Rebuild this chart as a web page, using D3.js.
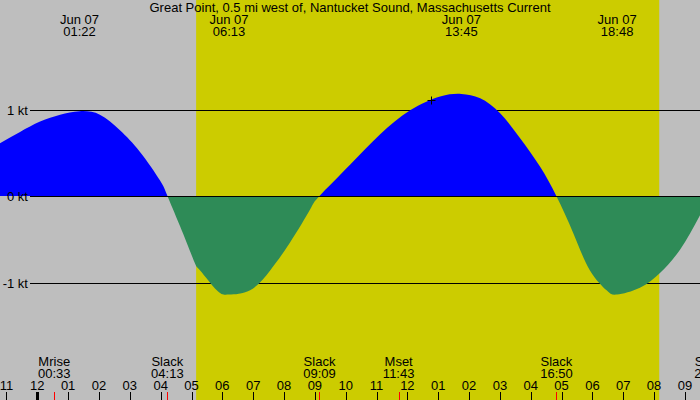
<!DOCTYPE html>
<html>
<head>
<meta charset="utf-8">
<script src="https://cdn.jsdelivr.net/npm/d3@7"></script>
<style>
  body { margin: 0; background: #bebebe; }
  svg { display: block; }
  text { font-family: "Liberation Sans", Arial, sans-serif; font-size: 13px; fill: #000; }
</style>
</head>
<body>
<div id="chart"></div>
<script>
// Current speed (hours after midnight Jun 07, knots)
const hours = [-1.21, -0.56, 0.09, 0.74, 1.37, 2.03, 2.68, 3.33, 3.98, 4.22, 4.63, 5.09, 5.28, 5.82, 6.22,
    6.90, 7.55, 8.19, 8.84, 9.15, 10.14, 11.11, 12.09, 13.06, 13.75, 14.36, 15.00, 15.65, 16.30, 16.83,
    17.38, 17.92, 18.46, 18.80, 19.54, 20.19, 20.84, 21.49];
const knots = [0.61, 0.74, 0.86, 0.94, 0.98, 0.94, 0.76, 0.51, 0.18, 0, -0.35, -0.76, -0.86, -1.09, -1.14,
    -1.09, -0.86, -0.54, -0.16, 0, 0.36, 0.71, 0.99, 1.15, 1.18, 1.13, 0.96, 0.67, 0.34, 0,
    -0.43, -0.86, -1.09, -1.14, -1.06, -0.89, -0.62, -0.22];

const title = "Great Point, 0.5 mi west of, Nantucket Sound, Massachusetts Current";

// max / min current times shown on top
const peakDates = ["Jun 07", "Jun 07", "Jun 07", "Jun 07"];
const peakTimes = ["01:22", "06:13", "13:45", "18:48"];

// events along the bottom
const eventNames = ["Mrise", "Slack", "Slack", "Mset", "Slack", "Slack"];
const eventTimes = ["00:33", "04:13", "09:09", "11:43", "16:50", "21:50"];

const sunrise = "05:09";
const sunset = "20:10";

const levels = [1, 0, -1];
const levelLabels = ["1 kt", "0 kt", "-1 kt"];

const hourTicks = d3.range(-1, 22);  // 23:00 prev day .. 21:00
const markTime = 12.77, markValue = 1.11;

const width = 700, height = 400;

function toHours(s) {
    const p = s.split(":");
    return +p[0] + (+p[1]) / 60;
}

const x = d3.scaleLinear().domain([0, 20]).range([37.3, 654.1]);
const y = d3.scaleLinear().domain([1, -1]).range([109.5, 282.5]);

const svg = d3.select("#chart").append("svg")
    .attr("width", width)
    .attr("height", height);

svg.append("rect").attr("width", width).attr("height", height).attr("fill", "#bebebe");

// daylight
svg.append("rect")
    .attr("x", x(toHours(sunrise)))
    .attr("y", 0)
    .attr("width", x(toHours(sunset)) - x(toHours(sunrise)))
    .attr("height", height)
    .attr("fill", "#cccc00");

// level lines
svg.selectAll(".level").data(levels).enter()
    .append("line")
    .attr("x1", 30).attr("x2", width)
    .attr("y1", d => Math.round(y(d)) + 0.5)
    .attr("y2", d => Math.round(y(d)) + 0.5)
    .attr("stroke", "#000")
    .attr("stroke-width", 1);

// current curve, flood blue above zero, ebb green below
const pts = hours.map((h, i) => [h, knots[i]]);
const area = d3.area()
    .x(d => x(d[0]))
    .y0(y(0))
    .y1(d => y(d[1]))
    .curve(d3.curveNatural);

const defs = svg.append("defs");
defs.append("clipPath").attr("id", "above")
    .append("rect").attr("x", 0).attr("y", 0).attr("width", width).attr("height", y(0));
defs.append("clipPath").attr("id", "below")
    .append("rect").attr("x", 0).attr("y", y(0)).attr("width", width).attr("height", height - y(0));

svg.append("path").datum(pts)
    .attr("d", area)
    .attr("fill", "#0000ff")
    .attr("clip-path", "url(#above)");

svg.append("path").datum(pts)
    .attr("d", area)
    .attr("fill", "#2e8b57")
    .attr("clip-path", "url(#below)");

// zero line on top
svg.append("line")
    .attr("x1", 30).attr("x2", width)
    .attr("y1", Math.round(y(0)) + 0.5).attr("y2", Math.round(y(0)) + 0.5)
    .attr("stroke", "#000");

svg.selectAll(".levelLabel").data(levels).enter()
    .append("text")
    .attr("x", 28)
    .attr("y", d => Math.round(y(d)) + 5)
    .attr("text-anchor", "end")
    .text((d, i) => levelLabels[i]);

// "now" mark
const mx = Math.round(x(markTime)) + 0.5, my = Math.round(y(markValue)) + 0.5;
svg.append("path")
    .attr("d", `M${mx - 4},${my}H${mx + 4}M${mx},${my - 4}V${my + 4}`)
    .attr("stroke", "#000")
    .attr("fill", "none");

// title
svg.append("text")
    .attr("x", width / 2)
    .attr("y", 12)
    .attr("text-anchor", "middle")
    .text(title);

// peaks on top
const peaks = svg.selectAll(".peak").data(peakTimes).enter()
    .append("g")
    .attr("transform", d => `translate(${x(toHours(d))},0)`);
peaks.append("text").attr("y", 24).attr("text-anchor", "middle").text((d, i) => peakDates[i]);
peaks.append("text").attr("y", 36).attr("text-anchor", "middle").text(d => d);

// bottom events
const ev = svg.selectAll(".event").data(eventTimes).enter()
    .append("g")
    .attr("transform", d => `translate(${x(toHours(d))},0)`);
ev.append("text").attr("y", 366).attr("text-anchor", "middle").text((d, i) => eventNames[i]);
ev.append("text").attr("y", 378).attr("text-anchor", "middle").text(d => d);

// hour ticks
svg.selectAll(".hourTick").data(hourTicks).enter()
    .append("line")
    .attr("x1", d => Math.round(x(d)) + 0.5)
    .attr("x2", d => Math.round(x(d)) + 0.5)
    .attr("y1", 392).attr("y2", height)
    .attr("stroke", "#000")
    .attr("stroke-width", d => d === 0 ? 3 : 1);

svg.selectAll(".hourLabel").data(hourTicks).enter()
    .append("text")
    .attr("x", d => x(d))
    .attr("y", 390)
    .attr("text-anchor", "middle")
    .text(d => {
        const h = ((d % 12) + 12) % 12;
        return d3.format("02d")(h === 0 ? 12 : h);
    });

// red event ticks
svg.selectAll(".evTick").data(eventTimes).enter()
    .append("line")
    .attr("x1", d => Math.round(x(toHours(d))) + 0.5)
    .attr("x2", d => Math.round(x(toHours(d))) + 0.5)
    .attr("y1", 392).attr("y2", height)
    .attr("stroke", "#ff0000");
</script>
</body>
</html>
